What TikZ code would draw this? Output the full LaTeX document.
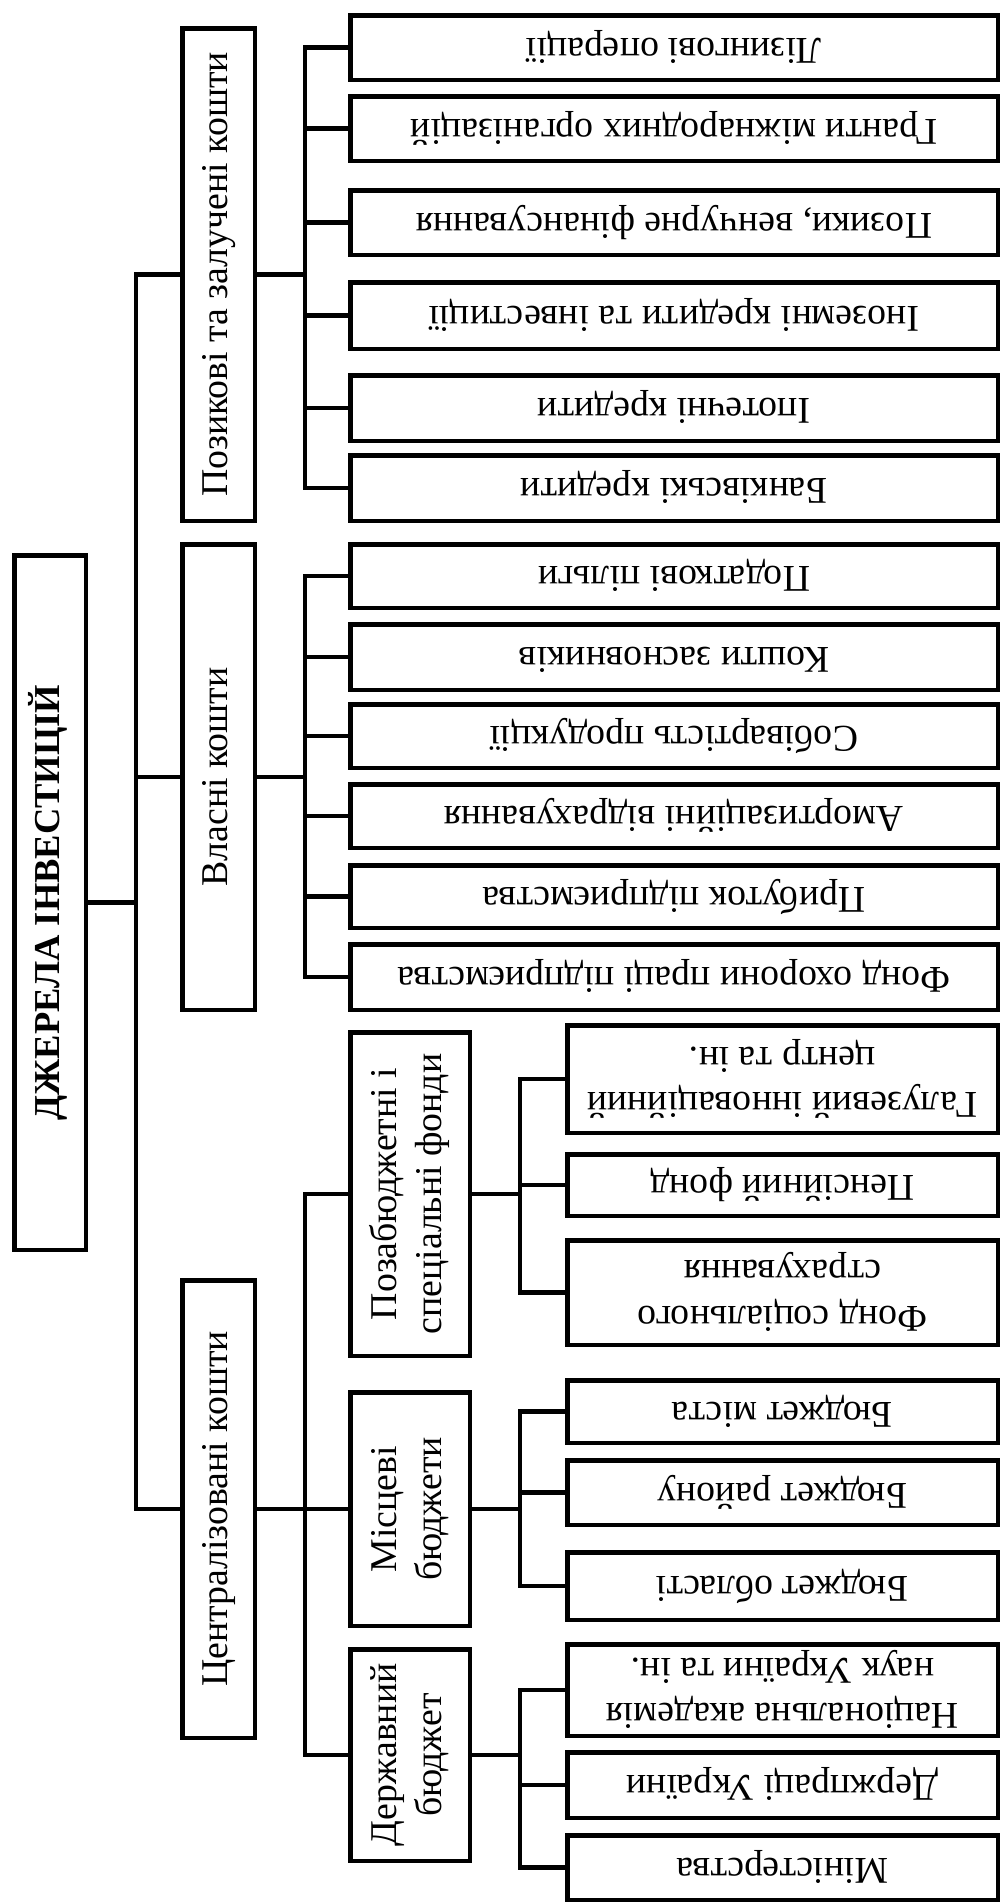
\documentclass[tikz,border=0pt]{standalone}
\usepackage{fontspec}
\setmainfont{Liberation Serif}

\newcommand{\uptxt}[1]{\rotatebox{90}{\begin{tabular}{@{}c@{}}#1\end{tabular}}}
\newcommand{\fliptxt}[1]{\rotatebox{180}{\begin{tabular}{@{}c@{}}#1\end{tabular}}}

\tikzset{
  box/.style={draw, line width=4.5pt, inner sep=0pt, font=\fontsize{37.8}{45.5}\selectfont},
  rootbox/.style={box, minimum width=71.5pt, font=\fontsize{36.5}{45.5}\selectfont\bfseries},
  lvlone/.style={box, minimum width=72.5pt},
  lvltwo/.style={box, minimum width=119.5pt},
  leaf/.style={box, minimum width=647.5pt},
  subleaf/.style={box, minimum width=430.5pt},
  link/.style={line width=4.5pt},
}

\begin{document}
\begin{tikzpicture}[x=1pt,y=-1pt]
\useasboundingbox (0,0) rectangle (1002,1903);

\node[rootbox, minimum height=694.5pt] (root) at (50,902.5) {\uptxt{ДЖЕРЕЛА ІНВЕСТИЦІЙ}};

\node[lvlone, minimum height=492.5pt] (pozyk) at (218.5,274.5) {\uptxt{Позикові та залучені кошти}};
\node[lvlone, minimum height=465.5pt] (vlasni) at (218.5,777) {\uptxt{Власні кошти}};
\node[lvlone, minimum height=457.5pt] (centr) at (218.5,1509) {\uptxt{Централізовані кошти}};

% pozykovi
\node[leaf, minimum height=64.5pt] (lizyng) at (674,47.5) {\fliptxt{Лізингові операції}};
\node[leaf, minimum height=64.5pt] (granty) at (674,128.5) {\fliptxt{Гранти міжнародних організацій}};
\node[leaf, minimum height=64.5pt] (venchur) at (674,222.5) {\fliptxt{Позики, венчурне фінансування}};
\node[leaf, minimum height=66.5pt] (inozem) at (674,315.5) {\fliptxt{Іноземні кредити та інвестиції}};
\node[leaf, minimum height=65.5pt] (ipotek) at (674,408) {\fliptxt{Іпотечні кредити}};
\node[leaf, minimum height=65.5pt] (bank) at (674,488) {\fliptxt{Банківські кредити}};

% vlasni
\node[leaf, minimum height=63.5pt] (pilgy) at (674,576) {\fliptxt{Податкові пільги}};
\node[leaf, minimum height=65.5pt] (zasnov) at (674,657) {\fliptxt{Кошти засновників}};
\node[leaf, minimum height=63.5pt] (sobiv) at (674,736) {\fliptxt{Собівартість продукції}};
\node[leaf, minimum height=63.5pt] (amort) at (674,816) {\fliptxt{Амортизаційні відрахування}};
\node[leaf, minimum height=62.5pt] (prybut) at (674,896.5) {\fliptxt{Прибуток підприємства}};
\node[leaf, minimum height=65.5pt] (ohorona) at (674,977) {\fliptxt{Фонд охорони праці підприємства}};

% centralizovani
\node[lvltwo, minimum height=323.5pt] (pozabud) at (410,1194) {\uptxt{Позабюджетні і\\спеціальні фонди}};
\node[lvltwo, minimum height=233.5pt] (miscevi) at (410,1509) {\uptxt{Місцеві\\бюджети}};
\node[lvltwo, minimum height=211.5pt] (derzh) at (410,1755) {\uptxt{Державний\\бюджет}};

\node[subleaf, minimum height=107.5pt] (galuz) at (782.5,1079) {\fliptxt{Галузевий інноваційний\\центр та ін.}};
\node[subleaf, minimum height=61.5pt] (pensij) at (782.5,1185) {\fliptxt{Пенсійний фонд}};
\node[subleaf, minimum height=104.5pt] (socstrah) at (782.5,1292.5) {\fliptxt{Фонд соціального\\страхування}};

\node[subleaf, minimum height=62.5pt] (misto) at (782.5,1411.5) {\fliptxt{Бюджет міста}};
\node[subleaf, minimum height=64.5pt] (rajon) at (782.5,1492.5) {\fliptxt{Бюджет району}};
\node[subleaf, minimum height=67.5pt] (oblast) at (782.5,1586) {\fliptxt{Бюджет області}};

\node[subleaf, minimum height=91.5pt] (nan) at (782.5,1690) {\fliptxt{Національна академія\\наук України та ін.}};
\node[subleaf, minimum height=65.5pt] (derzhpraci) at (782.5,1785) {\fliptxt{Держпраці України}};
\node[subleaf, minimum height=64.5pt] (minist) at (782.5,1867.5) {\fliptxt{Міністерства}};

\draw[link] (root.east) -- ++(48,0) |- (pozyk.west);
\draw[link] (root.east) -- ++(48,0) |- (vlasni.west);
\draw[link] (root.east) -- ++(48,0) |- (centr.west);

\draw[link] (pozyk.east) -- ++(48,0) |- (lizyng.west);
\draw[link] (pozyk.east) -- ++(48,0) |- (granty.west);
\draw[link] (pozyk.east) -- ++(48,0) |- (venchur.west);
\draw[link] (pozyk.east) -- ++(48,0) |- (inozem.west);
\draw[link] (pozyk.east) -- ++(48,0) |- (ipotek.west);
\draw[link] (pozyk.east) -- ++(48,0) |- (bank.west);

\draw[link] (vlasni.east) -- ++(48,0) |- (pilgy.west);
\draw[link] (vlasni.east) -- ++(48,0) |- (zasnov.west);
\draw[link] (vlasni.east) -- ++(48,0) |- (sobiv.west);
\draw[link] (vlasni.east) -- ++(48,0) |- (amort.west);
\draw[link] (vlasni.east) -- ++(48,0) |- (prybut.west);
\draw[link] (vlasni.east) -- ++(48,0) |- (ohorona.west);

\draw[link] (centr.east) -- ++(48,0) |- (pozabud.west);
\draw[link] (centr.east) -- ++(48,0) |- (miscevi.west);
\draw[link] (centr.east) -- ++(48,0) |- (derzh.west);

\draw[link] (pozabud.east) -- ++(48,0) |- (galuz.west);
\draw[link] (pozabud.east) -- ++(48,0) |- (pensij.west);
\draw[link] (pozabud.east) -- ++(48,0) |- (socstrah.west);

\draw[link] (miscevi.east) -- ++(48,0) |- (misto.west);
\draw[link] (miscevi.east) -- ++(48,0) |- (rajon.west);
\draw[link] (miscevi.east) -- ++(48,0) |- (oblast.west);

\draw[link] (derzh.east) -- ++(48,0) |- (nan.west);
\draw[link] (derzh.east) -- ++(48,0) |- (derzhpraci.west);
\draw[link] (derzh.east) -- ++(48,0) |- (minist.west);
\end{tikzpicture}
\end{document}
